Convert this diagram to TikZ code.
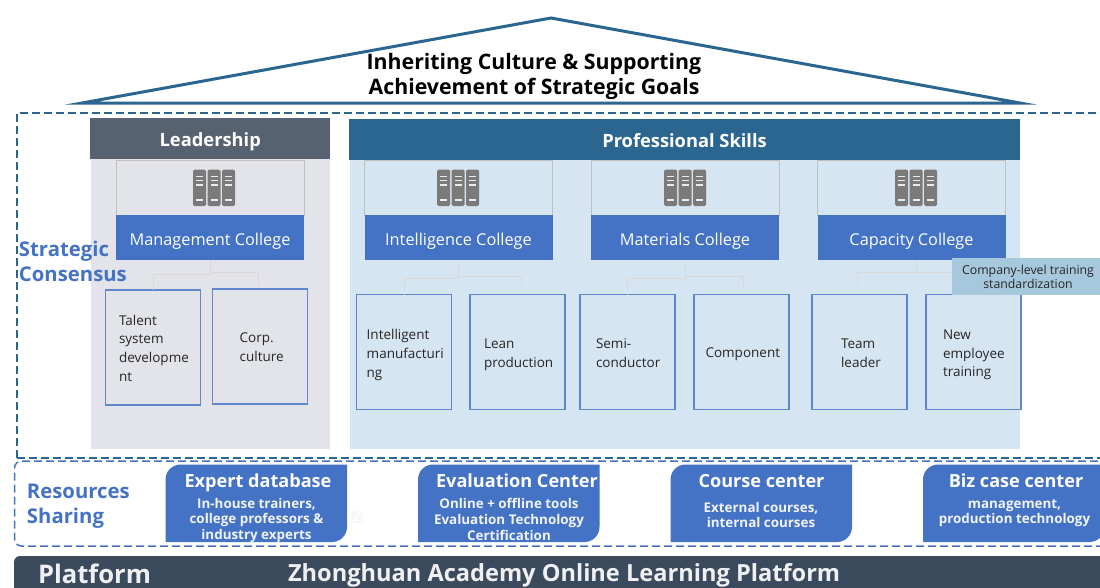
\documentclass[tikz,border=0pt]{standalone}
\usepackage{fontspec}
\setmainfont{Open Sans}
\newfontfamily\cjkfont{Noto Sans CJK SC}
\usepackage{tikz}
\definecolor{roofblue}{HTML}{2B6690}
\definecolor{collegeblue}{HTML}{4472C4}
\definecolor{leadgray}{HTML}{566270}
\definecolor{leadbody}{HTML}{E2E4E9}
\definecolor{skillbody}{HTML}{D6E5F2}
\definecolor{calloutblue}{HTML}{A5C8DC}
\definecolor{platformgray}{HTML}{3C4A5E}
\definecolor{iconcol}{HTML}{7A7A7A}
\tikzset{
    x=1pt, y=-1pt,
    every node/.style={inner sep=0pt, outer sep=0pt},
    header/.style={minimum width=#1, minimum height=41, text height=19pt, text depth=4pt, text=white, font=\fontsize{18.3}{22}\selectfont\bfseries},
    iconbox/.style={draw=black!25, line width=1pt, minimum width=188, minimum height=55},
    collegebox/.style={fill=collegeblue, minimum width=188, minimum height=45, text height=19pt, text depth=4pt, text=white, font=\fontsize{16.3}{20}\selectfont},
    leafbox/.style={draw=collegeblue!85, line width=1.1pt, minimum width=95, minimum height=115},
    leaftext/.style={anchor=west, align=left, text=black!85, font=\fontsize{13.5}{18.7}\selectfont},
    treeline/.style={draw=black!15, line width=0.9pt},
    sidelabel/.style={anchor=west, align=left, text=collegeblue, font=\fontsize{20.3}{25}\selectfont\bfseries},
    restitle/.style={text height=14pt, text depth=4pt, text=white, font=\fontsize{18.1}{22}\selectfont\bfseries},
    ressub/.style={text=white!92!collegeblue, align=center, font=\fontsize{13.4}{15.6}\selectfont\bfseries},
}
\begin{document}
\begin{tikzpicture}
            \useasboundingbox (0,0) rectangle (1100,587);
            \clip (0,0) rectangle (1100,587);
            \draw [roofblue, line width=3pt, miter limit=20] (82,103) -- (551,18) -- (1020,103) -- cycle;
            \node [align=center, font=\fontsize{21.3}{25}\selectfont\bfseries] (goal) at (534,76.5) {Inheriting Culture \& Supporting\\Achievement of Strategic Goals};
            \draw [roofblue, line width=1.5pt, dash pattern=on 8pt off 4pt] (17,458) -- (17,113) -- (1110,113) (17,458) -- (1110,458);
            \draw [collegeblue, line width=1.5pt, dash pattern=on 8pt off 4pt, rounded corners=7pt] (1110,461) -- (14.5,461) -- (14.5,546) -- (1110,546);
            \fill [leadbody] (90.5,159) rectangle (330,449);
            \fill [skillbody] (350,160) rectangle (1020,449);
            \node [header=240, fill=leadgray] (leadership) at (210.25,138.5) {Leadership};
            \node [header=671, fill=roofblue] (skills) at (684.5,139.5) {Professional Skills};
            \foreach \name/\x/\icon/\txt in {management/210/214/Management College, intelligence/458.5/458/Intelligence College, materials/685/685/Materials College, capacity/911.5/916/Capacity College}{
                \node [iconbox] (\name top) at (\x,187.5) {};
                \node [collegebox] (\name) at (\x,237.5) {\txt};
                \foreach \dx in {-21,-6.5,8}{
                    \fill [iconcol, rounded corners=1.5pt] (\icon+\dx,169.5) rectangle (\icon+\dx+13,206);
                    \foreach \by in {176.5,180.5,185,200}{
                        \fill [white!85!iconcol] (\icon+\dx+3,\by-0.7) rectangle (\icon+\dx+10,\by+0.7);
                    }
                }
            }
            \foreach \name/\x/\y/\inset/\dy/\txt in {talent/153/347.5/13.5/0.5/{Talent\\system\\developme\\nt}, corp/260.2/346.5/27/1/{Corp.\\culture}, intelligent/404.2/352/10/3/{Intelligent\\manufacturi\\ng}, lean/517.5/352/14/3/{Lean\\production}, semi/627.5/352/16/1/{Semi-\\conductor}, component/741.5/352/11.5/2/{Component}, team/859.5/352/29/1/{Team\\leader}, newstaff/973.5/352/17/3/{New\\employee\\training}}{
                \node [leafbox] (\name) at (\x,\y) {};
                \node [leaftext] (\name text) at ([xshift=\inset,yshift=-\dy]\name.west) {\txt};
            }
            \coordinate (corpend) at (258,287);
            \coordinate (leanend) at (521,286);
            \coordinate (componentend) at (743,290);
            \coordinate (teamend) at (857,287);
            \coordinate (capend) at (952,272);
            \draw [treeline] (management.south) -- ++(0,14) -| (talent.north);
            \draw [treeline] (management.south) -- ++(0,12) -| (corpend);
            \draw [treeline] (intelligence.south) -- ++(0,18) -| (intelligent.north);
            \draw [treeline] (intelligence.south) -- ++(0,16) -| (leanend);
            \draw [treeline] (materials.south) -- ++(0,18) -| (semi.north);
            \draw [treeline] (materials.south) -- ++(0,16) -| (componentend);
            \draw [treeline] ([xshift=4.5]capacity.south) -- ++(0,12.5) -| (teamend);
            \draw [treeline] ([xshift=4.5]capacity.south) |- (capend);
            \node [fill=calloutblue, minimum width=152, minimum height=37, align=center, text=black!85, font=\fontsize{12.3}{14}\selectfont] (callout) at (1028,276.5) {Company-level training\\standardization};
            \node [sidelabel] (consensus) at (19,261.5) {Strategic\\Consensus};
            \node [sidelabel] (sharing) at (27,506.5) {Resources\\Sharing};
            \foreach \name/\x in {expert/165.5, evaluation/418, course/670.5, bizcase/923}{
                \fill [collegeblue] (\x,542) [rounded corners=15pt] -- (\x,464.5) [sharp corners] -- (\x+181.5,464.5) [rounded corners=15pt] -- (\x+181.5,542) [sharp corners] -- cycle;
            }
            \node [restitle] (expert) at (258,482.7) {Expert database};
            \node [ressub] (expert sub) at (256.5,520.5) {In-house trainers,\\college professors \&\\industry experts};
            \node [restitle] (evaluation) at (517,482.7) {Evaluation Center};
            \node [ressub] (evaluation sub) at (509,519.5) {Online + offline tools\\Evaluation Technology\\Certification};
            \node [restitle] (course) at (761.5,482.7) {Course center};
            \node [ressub] (course sub) at (761,515) {External courses,\\internal courses};
            \node [restitle] (bizcase) at (1016,482.7) {Biz case center};
            \node [ressub] (bizcase sub) at (1014.5,513) {management,\\production technology};
            \node [text=black!6, font=\fontsize{13}{15}\selectfont\cjkfont] (faint) at (357,518) {程};
            \fill [platformgray, rounded corners=6pt] (14,556) rectangle (1120,600);
            \node [anchor=west, text=white!92!platformgray, font=\fontsize{25.6}{30}\selectfont\bfseries] (platform) at (38,574) {Platform};
            \node [anchor=west, text=white!92!platformgray, font=\fontsize{23.6}{28}\selectfont\bfseries] (academy) at (288,575.5) {Zhonghuan Academy Online Learning Platform};
        \end{tikzpicture}
\end{document}
